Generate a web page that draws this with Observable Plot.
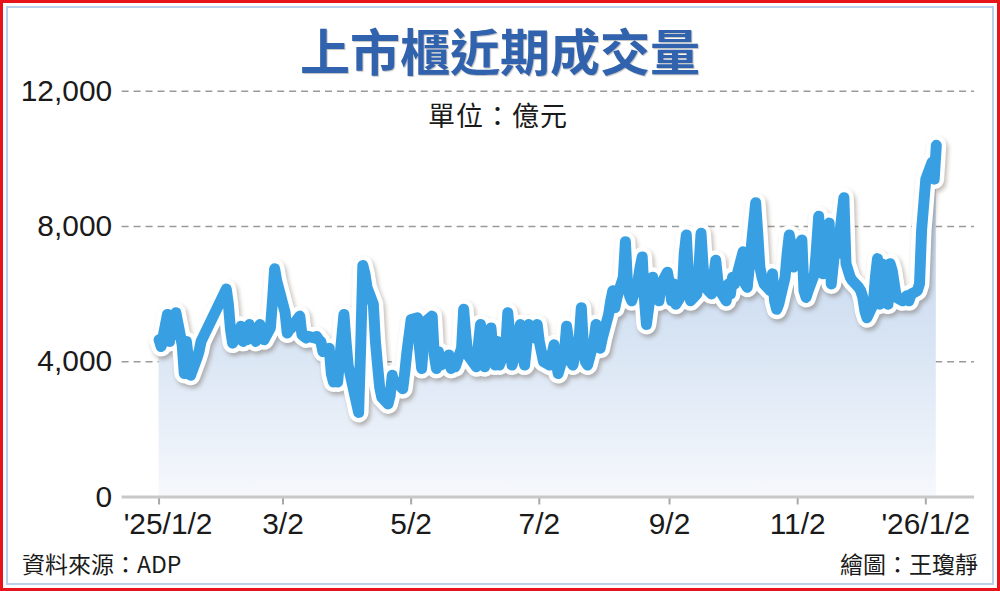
<!DOCTYPE html>
<html>
<head>
<meta charset="utf-8">
<script src="https://cdn.jsdelivr.net/npm/d3@7"></script>
<script src="https://cdn.jsdelivr.net/npm/@observablehq/plot@0.6"></script>
<style>
  body { margin: 0; background: #fff; }
  #wrap { position: relative; width: 1000px; height: 591px; box-sizing: border-box; border: 3px solid #e8141b; background: #fff; overflow: hidden; }
  #inner { position: absolute; left: 3px; top: 3px; right: 3px; bottom: 3px; border: 2px solid #b9d1ea; }
  #chart { position: absolute; left: -3px; top: -3px; }
  .txt { position: absolute; font-family: "Noto Sans CJK TC", "Noto Sans", sans-serif; color: #1a1a1a; white-space: nowrap; }
  #title { left: 0; right: 0; top: 16px; text-align: center; font-size: 50px; line-height: 60px; font-weight: 700; color: #3162ad; text-shadow: 1px 1px 1px rgba(0,0,0,0.25); }
  #unit { left: 0; width: 990px; top: 96px; text-align: center; font-size: 27px; line-height: 32px; letter-spacing: 1px; }
  #src { left: 19px; top: 546px; font-size: 23px; line-height: 28px; }
  #by { right: 19px; top: 546px; font-size: 23px; line-height: 28px; }
</style>
</head>
<body>
<div id="wrap">
  <div id="inner"></div>
  <div id="chart"></div>
  <div class="txt" id="title">上市櫃近期成交量</div>
  <div class="txt" id="unit">單位：億元</div>
  <div class="txt" id="src">資料來源：ADP</div>
  <div class="txt" id="by">繪圖：王瓊靜</div>
</div>
<script>
// Trading dates (2025-01-02 … 2026-01-07)
const dates = [
"2025-01-02","2025-01-03","2025-01-06","2025-01-07","2025-01-08","2025-01-09","2025-01-10","2025-01-13","2025-01-14","2025-01-15","2025-01-16","2025-01-17","2025-01-20","2025-01-21","2025-01-22",
"2025-02-03","2025-02-04","2025-02-05","2025-02-06","2025-02-07","2025-02-10","2025-02-11","2025-02-12","2025-02-13","2025-02-14","2025-02-17","2025-02-18","2025-02-19","2025-02-20","2025-02-21","2025-02-24","2025-02-25","2025-02-26","2025-02-27",
"2025-03-03","2025-03-04","2025-03-05","2025-03-06","2025-03-07","2025-03-10","2025-03-11","2025-03-12","2025-03-13","2025-03-14","2025-03-17","2025-03-18","2025-03-19","2025-03-20","2025-03-21","2025-03-24","2025-03-25","2025-03-26","2025-03-27","2025-03-28","2025-03-31",
"2025-04-01","2025-04-02","2025-04-07","2025-04-08","2025-04-09","2025-04-10","2025-04-11","2025-04-14","2025-04-15","2025-04-16","2025-04-17","2025-04-18","2025-04-21","2025-04-22","2025-04-23","2025-04-24","2025-04-25","2025-04-28","2025-04-29","2025-04-30",
"2025-05-02","2025-05-05","2025-05-06","2025-05-07","2025-05-08","2025-05-09","2025-05-12","2025-05-13","2025-05-14","2025-05-15","2025-05-16","2025-05-19","2025-05-20","2025-05-21","2025-05-22","2025-05-23","2025-05-26","2025-05-27","2025-05-28","2025-05-29",
"2025-06-02","2025-06-03","2025-06-04","2025-06-05","2025-06-06","2025-06-09","2025-06-10","2025-06-11","2025-06-12","2025-06-13","2025-06-16","2025-06-17","2025-06-18","2025-06-19","2025-06-20","2025-06-23","2025-06-24","2025-06-25","2025-06-26","2025-06-27","2025-06-30",
"2025-07-01","2025-07-02","2025-07-03","2025-07-04","2025-07-07","2025-07-08","2025-07-09","2025-07-10","2025-07-11","2025-07-14","2025-07-15","2025-07-16","2025-07-17","2025-07-18","2025-07-21","2025-07-22","2025-07-23","2025-07-24","2025-07-25","2025-07-28","2025-07-29","2025-07-30","2025-07-31",
"2025-08-01","2025-08-04","2025-08-05","2025-08-06","2025-08-07","2025-08-08","2025-08-11","2025-08-12","2025-08-13","2025-08-14","2025-08-15","2025-08-18","2025-08-19","2025-08-20","2025-08-21","2025-08-22","2025-08-25","2025-08-26","2025-08-27","2025-08-28","2025-08-29",
"2025-09-01","2025-09-02","2025-09-03","2025-09-04","2025-09-05","2025-09-08","2025-09-09","2025-09-10","2025-09-11","2025-09-12","2025-09-15","2025-09-16","2025-09-17","2025-09-18","2025-09-19","2025-09-22","2025-09-23","2025-09-24","2025-09-25","2025-09-26","2025-09-29","2025-09-30",
"2025-10-01","2025-10-02","2025-10-03","2025-10-07","2025-10-08","2025-10-09","2025-10-13","2025-10-14","2025-10-15","2025-10-16","2025-10-17","2025-10-20","2025-10-21","2025-10-22","2025-10-23","2025-10-24","2025-10-27","2025-10-28","2025-10-29","2025-10-30","2025-10-31",
"2025-11-03","2025-11-04","2025-11-05","2025-11-06","2025-11-07","2025-11-10","2025-11-11","2025-11-12","2025-11-13","2025-11-14","2025-11-17","2025-11-18","2025-11-19","2025-11-20","2025-11-21","2025-11-24","2025-11-25","2025-11-26","2025-11-27","2025-11-28",
"2025-12-01","2025-12-02","2025-12-03","2025-12-04","2025-12-05","2025-12-08","2025-12-09","2025-12-10","2025-12-11","2025-12-12","2025-12-15","2025-12-16","2025-12-17","2025-12-18","2025-12-19","2025-12-22","2025-12-23","2025-12-24","2025-12-25","2025-12-26","2025-12-29","2025-12-30","2025-12-31",
"2026-01-02","2026-01-05","2026-01-06","2026-01-07"
];
// Daily turnover (億元)
const volumes = [
4650,4450,5400,4600,5300,4800,5450,4500,3650,4600,4100,3600,4100,4300,4600,
6150,5700,4950,4550,4650,5050,4600,4800,4650,5100,4600,4800,5100,4750,4650,5000,5800,6750,6400,
5450,4850,4950,5000,5100,5350,4800,4750,4700,4750,4700,4750,4650,4600,4300,4400,3650,3400,3700,3400,5400,
4600,3900,2500,4500,6850,6600,6200,5700,4600,3900,3250,2950,2750,3000,3600,3300,3400,3200,3700,4300,
5250,5300,4400,3800,4600,5200,5350,4200,3800,4300,3900,4000,4200,3800,4100,3850,4400,5550,4800,4200,
3850,4500,5100,4400,3850,5000,4300,3900,4600,3900,4400,5450,4800,3900,4100,5100,4300,3900,4500,5100,4700,
5100,4600,4300,4000,3900,4200,4500,4000,3650,4300,5050,4600,4000,3900,4700,5600,4500,4000,3900,4600,5100,4800,4400,
4700,5400,5800,6100,5600,5900,6500,7550,6300,5950,5800,6400,6800,7100,5900,5100,6500,5900,6000,5800,6300,
6650,6300,5800,6300,5700,6000,7200,7750,6500,5800,6000,6800,7800,6800,6200,6000,6500,7000,6400,6100,5800,6300,
6000,6500,6300,7250,6300,6200,8700,7800,6800,6500,6300,6100,6600,5800,5550,5700,6500,7200,7750,7400,6800,
7500,7600,6100,5900,6100,6600,7400,8300,7000,6600,8100,6300,6900,7500,7200,8850,6900,6700,6500,6400,
6200,6100,5900,5500,5300,5700,6500,7050,5700,6900,5700,6900,6700,6300,5900,5800,5900,5950,5800,6000,6100,6300,7900,
9400,9900,9400,10400
];
const gridValues = [4000, 8000, 12000];
const yTicks = [0, 4000, 8000, 12000];
const tickDates = ["2025-01-02","2025-03-02","2025-05-02","2025-07-02","2025-09-02","2025-11-02","2026-01-02"];
const tickLabels = ["'25/1/2","3/2","5/2","7/2","9/2","11/2","'26/1/2"];

const parse = d3.utcParse("%Y-%m-%d");
const data = dates.map((d, i) => ({date: parse(d), value: volumes[i]}));
const tickDateObjs = tickDates.map(parse);
const labelMap = new Map(tickDateObjs.map((d, i) => [+d, tickLabels[i]]));

const chart = Plot.plot({
  width: 1000,
  height: 591,
  marginLeft: 122,
  marginRight: 23,
  marginTop: 91,
  marginBottom: 93,
  style: {background: "transparent", fontFamily: "'Liberation Sans', Arial, sans-serif", fontSize: "30px", color: "#1a1a1a", overflow: "visible"},
  x: {type: "utc", domain: [new Date(Date.UTC(2024, 11, 15, 10)), new Date(Date.UTC(2026, 0, 25, 5))],
      ticks: tickDateObjs, tickFormat: d => labelMap.get(+d) ?? "", tickSize: 8, tickPadding: 8, label: null},
  y: {domain: [0, 12000], ticks: yTicks, tickFormat: d3.format(","), tickSize: 0, tickPadding: 10, label: null},
  marks: [
    Plot.ruleY(gridValues, {stroke: "#9a9a9a", strokeWidth: 1.6, strokeDasharray: "7,5"}),
    Plot.areaY(data, {x: "date", y: "value", fill: "url(#areaGrad)"}),
    Plot.ruleY([0], {stroke: "#c8c8c8", strokeWidth: 3}),
    Plot.lineY(data, {x: "date", y: "value", stroke: "#ffffff", strokeWidth: 20, strokeLinejoin: "round", strokeLinecap: "round"}),
    Plot.lineY(data, {x: "date", y: "value", stroke: "#38a0e2", strokeWidth: 11, strokeLinejoin: "round", strokeLinecap: "round"})
  ]
});

const svg = d3.select(chart);
const defs = svg.insert("defs", ":first-child");
const grad = defs.append("linearGradient").attr("id", "areaGrad")
  .attr("gradientUnits", "userSpaceOnUse").attr("x1", 0).attr("x2", 0).attr("y1", 130).attr("y2", 498);
grad.append("stop").attr("offset", "0%").attr("stop-color", "#b4cdeb");
grad.append("stop").attr("offset", "55%").attr("stop-color", "#d6e3f3");
grad.append("stop").attr("offset", "100%").attr("stop-color", "#f6f8fc");
const lineGroups = svg.selectAll('g[aria-label="line"]').nodes();
if (lineGroups.length) d3.select(lineGroups[0]).style("filter", "drop-shadow(2px 3px 2px rgba(80,60,40,0.35))");
// x-axis tick styling
svg.selectAll('g[aria-label="x-axis tick"]').attr("stroke", "#a8a8a8").attr("stroke-width", 2);
svg.selectAll('g[aria-label="x-axis tick label"] text').each(function(d, i) {
  if (i === 0) d3.select(this).attr("dx", 9);
});
document.getElementById("chart").appendChild(chart);
</script>
</body>
</html>
